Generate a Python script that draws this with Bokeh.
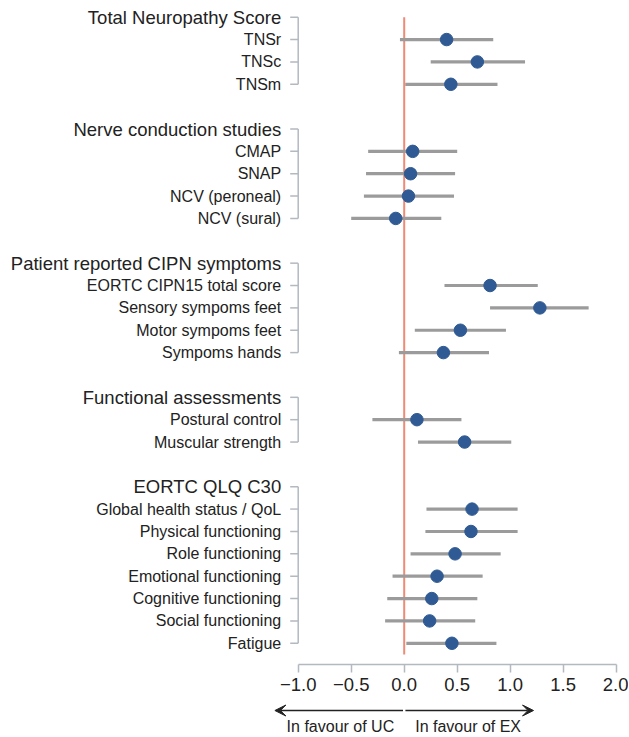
from bokeh.plotting import figure
from bokeh.layouts import column
from bokeh.models import Range1d, FixedTicker, ColumnDataSource, Arrow, VeeHead
from bokeh.core.properties import value
from bokeh.embed import file_html
from bokeh.resources import INLINE

# ---------------- data ----------------
group_titles = [
    "Total Neuropathy Score",
    "Nerve conduction studies",
    "Patient reported CIPN symptoms",
    "Functional assessments",
    "EORTC QLQ C30",
]
group_items = [
    ["TNSr", "TNSc", "TNSm"],
    ["CMAP", "SNAP", "NCV (peroneal)", "NCV (sural)"],
    ["EORTC CIPN15 total score", "Sensory sympoms feet", "Motor sympoms feet", "Sympoms hands"],
    ["Postural control", "Muscular strength"],
    ["Global health status / QoL", "Physical functioning", "Role functioning",
     "Emotional functioning", "Cognitive functioning", "Social functioning", "Fatigue"],
]
effect = [0.40, 0.69, 0.44,
          0.08, 0.06, 0.04, -0.08,
          0.81, 1.28, 0.53, 0.37,
          0.12, 0.57,
          0.64, 0.63, 0.48, 0.31, 0.26, 0.24, 0.45]
ci_low = [-0.04, 0.25, 0.01,
          -0.34, -0.36, -0.38, -0.50,
          0.38, 0.81, 0.10, -0.05,
          -0.30, 0.13,
          0.21, 0.20, 0.06, -0.11, -0.16, -0.18, 0.02]
ci_high = [0.84, 1.14, 0.88,
           0.50, 0.48, 0.47, 0.35,
           1.26, 1.74, 0.96, 0.80,
           0.54, 1.01,
           1.07, 1.07, 0.91, 0.74, 0.69, 0.67, 0.87]
x_ticks = [-1.0, -0.5, 0.0, 0.5, 1.0, 1.5, 2.0]
x_tick_labels = ["\u22121.0", "\u22120.5", "0.0", "0.5", "1.0", "1.5", "2.0"]
direction_labels = ["In favour of UC", "In favour of EX"]
arrow_extent = 1.22

# ---------------- row layout (derived from group structure) ----------------
item_rows, item_names, header_rows = [], [], []
bracket_top, bracket_bottom = [], []
r = 0
for title, items in zip(group_titles, group_items):
    header_rows.append(r)
    for j, name in enumerate(items):
        item_rows.append(r + 1 + j)
        item_names.append(name)
    bracket_top.append(r)
    bracket_bottom.append(r + len(items))
    r += len(items) + 2
last_row = item_rows[-1]

# ---------------- pixel layout ----------------
W = 628
H_MAIN = 700
H_BOTTOM = 36
X_AXIS_START_PX = 297.7     # where -1.0 sits
PX_PER_UNIT = 106.0
FRAME_RIGHT_PX = 616
ROW0_PX = 16.7
ROW_PX = 22.36
AXIS_PX = 664
TICK_PX = 8
LABEL_GAP_PX = 17

x_start = -1.0 - X_AXIS_START_PX / PX_PER_UNIT
x_end = -1.0 + (FRAME_RIGHT_PX - X_AXIS_START_PX) / PX_PER_UNIT
y_top = -ROW0_PX / ROW_PX
y_bottom = (AXIS_PX - ROW0_PX) / ROW_PX
tick_len = TICK_PX / PX_PER_UNIT

FONT = "Liberation Sans"
TXT = "#222222"
AXIS_GRAY = "#b3b9c0"

xr = Range1d(x_start, x_end)
p = figure(width=W, height=H_MAIN, x_range=xr, y_range=Range1d(y_bottom, y_top),
           output_backend="svg", toolbar_location=None,
           min_border_left=0, min_border_right=W - FRAME_RIGHT_PX,
           min_border_top=0, min_border_bottom=H_MAIN - AXIS_PX)
p.outline_line_color = None
p.grid.visible = False
p.yaxis.visible = False

# x axis
xa = p.xaxis[0]
xa.bounds = (-1.0, 2.0)
xa.ticker = FixedTicker(ticks=x_ticks)
xa.major_label_overrides = {t: l for t, l in zip(x_ticks, x_tick_labels)}
xa.axis_line_color = AXIS_GRAY
xa.axis_line_width = 1.5
xa.major_tick_line_color = AXIS_GRAY
xa.major_tick_line_width = 1.5
xa.major_tick_out = TICK_PX
xa.major_tick_in = 0
xa.minor_tick_line_color = None
xa.major_label_text_font = FONT
xa.major_label_text_font_size = "18.5px"
xa.major_label_text_color = TXT
xa.major_label_standoff = 5

# group brackets and row ticks (category axis)
n_g = len(bracket_top)
p.segment(x0=[-1.0] * n_g, y0=bracket_top, x1=[-1.0] * n_g, y1=bracket_bottom,
          line_color=AXIS_GRAY, line_width=1.5)
all_rows = header_rows + item_rows
p.segment(x0=[-1.0 - tick_len] * len(all_rows), y0=all_rows,
          x1=[-1.0] * len(all_rows), y1=all_rows,
          line_color=AXIS_GRAY, line_width=1.5)

# row labels
p.text(x=[-1.0] * len(item_rows), y=item_rows, text=item_names,
       x_offset=-LABEL_GAP_PX, text_align="right", text_baseline="middle",
       text_font=value(FONT), text_font_size="16px", text_color=TXT)
p.text(x=[-1.0] * len(header_rows), y=header_rows, text=group_titles,
       x_offset=-LABEL_GAP_PX, text_align="right", text_baseline="middle",
       text_font=value(FONT), text_font_size="18.5px", text_color=TXT)

# reference line at zero
p.segment(x0=[0.0], y0=[header_rows[0]], x1=[0.0], y1=[last_row + 0.5],
          line_color="#ef8a76", line_width=2)

# estimates with confidence intervals
src = ColumnDataSource(dict(y=item_rows, est=effect, lo=ci_low, hi=ci_high))
p.segment(x0="lo", y0="y", x1="hi", y1="y", source=src,
          line_color="#9b9b9b", line_width=3.2)
p.scatter(x="est", y="y", source=src, size=12.5,
          fill_color="#2f5a93", line_color="#2f5a93")

# ---------------- bottom strip: direction arrows ----------------
b = figure(width=W, height=H_BOTTOM, x_range=xr, y_range=Range1d(H_BOTTOM, 0),
           output_backend="svg", toolbar_location=None,
           x_axis_type=None, y_axis_type=None,
           min_border_left=0, min_border_right=W - FRAME_RIGHT_PX,
           min_border_top=0, min_border_bottom=0)
b.outline_line_color = None
b.grid.visible = False
ARROW_Y = 10
TEXT_Y = 26
gap = 1.2 / PX_PER_UNIT
b.add_layout(Arrow(end=VeeHead(size=11, fill_color=TXT, line_color=TXT),
                   x_start=-gap, y_start=ARROW_Y, x_end=-arrow_extent, y_end=ARROW_Y,
                   line_color=TXT, line_width=1.5))
b.add_layout(Arrow(end=VeeHead(size=11, fill_color=TXT, line_color=TXT),
                   x_start=gap, y_start=ARROW_Y, x_end=arrow_extent, y_end=ARROW_Y,
                   line_color=TXT, line_width=1.5))
b.text(x=[0.0], y=[TEXT_Y], text=[direction_labels[0]], x_offset=-10,
       text_align="right", text_baseline="middle", text_font=value(FONT),
       text_font_size="16px", text_color=TXT)
b.text(x=[0.0], y=[TEXT_Y], text=[direction_labels[1]], x_offset=11,
       text_align="left", text_baseline="middle", text_font=value(FONT),
       text_font_size="16px", text_color=TXT)

open("out.html", "w").write(file_html(column(p, b), INLINE))
